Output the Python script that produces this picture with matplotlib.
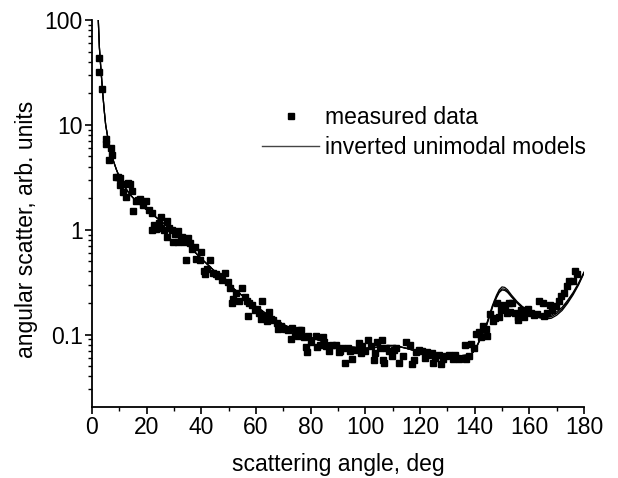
import matplotlib
matplotlib.use("Agg")
import matplotlib.pyplot as plt
from matplotlib.lines import Line2D
from matplotlib.ticker import LogLocator, NullFormatter, FixedLocator

plt.rcParams['font.family'] = ['Liberation Sans', 'DejaVu Sans']

# measured data (scattering angle deg, angular scatter arb. units)
meas_angle = [2.6, 2.7, 3.8, 5.0, 5.2, 6.2, 7.0, 7.4, 8.8, 9.6, 10.2, 10.4, 11.2, 11.7, 12.4,
              13.0, 13.8, 14.5, 14.9, 16.0, 16.9, 17.6, 18.5, 19.7,
              21.0, 21.8, 21.8, 22.6, 23.4, 24.5, 25.4, 25.4, 26.3, 27.3, 27.3, 28.2, 29.1, 29.5,
              30.3, 31.5, 31.5, 32.4, 33.1, 33.6, 34.3, 35.2, 35.8, 36.6, 37.6, 38.2, 39.4, 40.0,
              40.9, 41.3, 41.9, 43.1, 44.3, 45.3, 46.2, 47.4, 48.6, 49.8, 50.6, 51.4, 51.6, 52.7,
              53.8, 55.0, 55.8, 56.7, 57.1, 57.4, 58.4, 59.5, 60.3, 61.1, 62.0, 62.3, 63.2, 64.0,
              64.7, 65.5, 66.3, 67.7, 68.0, 69.2, 70.5, 71.6, 72.9, 73.3, 74.4, 75.2, 75.7, 76.6,
              77.5, 78.4, 78.6, 79.0, 80.2, 81.8, 82.3, 83.3, 84.5, 84.8, 85.7, 86.6, 87.8, 89.3,
              90.3, 90.7, 91.5, 92.4, 93.6, 94.3, 95.2, 96.5, 97.8, 98.5, 98.8, 99.7, 100.9, 101.9,
              103.0, 103.7, 104.2, 105.3, 106.1, 106.4, 106.8, 107.6, 108.5, 109.8, 110.6, 111.2,
              112.4, 113.9, 114.9, 116.2, 117.0, 117.8, 118.6, 119.7, 120.6, 121.7, 122.4, 123.0,
              124.4, 124.7, 125.6, 126.8, 127.6, 128.5, 129.5, 130.7, 131.9, 132.7, 133.6, 134.4,
              136.5, 137.0, 137.8, 138.8, 139.7, 140.6, 141.6, 142.2, 143.0, 144.2, 144.5, 145.6,
              146.6, 147.4, 148.3, 148.9, 149.8, 150.4, 151.1, 151.9, 152.5, 153.1, 153.7, 154.6,
              155.8, 156.0, 156.9, 158.2, 159.0, 159.6, 160.7, 161.8, 162.9, 163.4, 164.9, 165.3,
              166.3, 167.5, 168.4, 169.9, 170.7, 171.6, 172.5, 173.8, 174.6, 175.8, 176.6, 177.5]
meas_value = [43, 32, 22, 7.3, 6.5, 4.6, 6.0, 5.2, 3.2, 3.2, 2.65, 3.1, 2.3, 2.7, 2.05,
              2.8, 2.75, 2.35, 1.52, 1.9, 1.94, 1.95, 1.71, 1.9,
              1.55, 1.43, 0.99, 1.1, 1.02, 1.15, 1.32, 1.05, 1.0, 1.2, 0.85, 1.05, 0.99, 0.76,
              0.92, 0.98, 0.76, 0.8, 0.86, 0.76, 0.51, 0.84, 0.74, 0.66, 0.69, 0.53, 0.52, 0.61,
              0.40, 0.38, 0.42, 0.51, 0.39, 0.38, 0.36, 0.33, 0.39, 0.32, 0.28, 0.20, 0.22, 0.25,
              0.21, 0.28, 0.23, 0.21, 0.152, 0.20, 0.19, 0.17, 0.175, 0.16, 0.141, 0.21, 0.15, 0.135,
              0.165, 0.14, 0.137, 0.13, 0.113, 0.12, 0.113, 0.11, 0.091, 0.115, 0.10, 0.097, 0.11, 0.111,
              0.095, 0.076, 0.068, 0.098, 0.085, 0.098, 0.077, 0.08, 0.095, 0.085, 0.078, 0.07, 0.08, 0.079,
              0.068, 0.07, 0.075, 0.054, 0.075, 0.07, 0.058, 0.072, 0.083, 0.067, 0.078, 0.07, 0.088, 0.078,
              0.057, 0.067, 0.085, 0.075, 0.088, 0.057, 0.054, 0.075, 0.07, 0.063, 0.072, 0.075,
              0.054, 0.062, 0.085, 0.08, 0.053, 0.057, 0.068, 0.072, 0.07, 0.060, 0.069, 0.064,
              0.067, 0.054, 0.06, 0.064, 0.053, 0.058, 0.063, 0.064, 0.058, 0.064, 0.06, 0.058,
              0.079, 0.058, 0.062, 0.082, 0.075, 0.102, 0.106, 0.095, 0.122, 0.113, 0.098, 0.157,
              0.136, 0.145, 0.201, 0.146, 0.17, 0.19, 0.181, 0.16, 0.20, 0.166, 0.201, 0.16,
              0.146, 0.138, 0.17, 0.146, 0.165, 0.174, 0.16, 0.155, 0.156, 0.208, 0.201, 0.15,
              0.16, 0.193, 0.17, 0.189, 0.21, 0.232, 0.25, 0.288, 0.325, 0.325, 0.403, 0.38]

# inverted unimodal models
model_angle = [2.3, 2.7, 3.0, 3.5, 4.0, 4.5, 5.0, 6.0, 7.0, 8.0, 9.0, 10, 12, 14, 16, 18, 20,
               25, 30, 35, 40, 45, 50, 55, 60, 65, 70, 75, 80, 85, 90, 95, 100, 105, 108, 111,
               115, 120, 125, 130, 135, 138, 139.5, 141, 142.5, 144.5, 146.5, 148, 149, 150,
               151, 152, 153.5, 155.5, 157.5, 160, 162, 164, 166, 168, 170, 172, 174, 176,
               178, 180]
model_1 = [100, 55, 42, 28, 19, 13.5, 10, 7.0, 5.4, 4.4, 3.7, 3.2, 2.55, 2.15, 1.9, 1.7, 1.55,
           1.22, 0.95, 0.72, 0.53, 0.40, 0.30, 0.235, 0.185, 0.15, 0.125, 0.107, 0.094, 0.085,
           0.079, 0.076, 0.074, 0.076, 0.079, 0.079, 0.074, 0.068, 0.065, 0.063, 0.063, 0.064,
           0.068, 0.08, 0.098, 0.13, 0.19, 0.238, 0.268, 0.285, 0.282, 0.268, 0.238, 0.207,
           0.185, 0.168, 0.159, 0.153, 0.15, 0.153, 0.165, 0.182, 0.212, 0.252, 0.31, 0.395]
model_2 = [100, 55, 42, 28, 19, 13.5, 10, 7.0, 5.4, 4.4, 3.7, 3.2, 2.55, 2.15, 1.9, 1.7, 1.55,
           1.22, 0.95, 0.72, 0.53, 0.40, 0.30, 0.235, 0.185, 0.15, 0.125, 0.107, 0.094, 0.085,
           0.079, 0.076, 0.074, 0.076, 0.078, 0.078, 0.074, 0.068, 0.065, 0.063, 0.063, 0.064,
           0.068, 0.079, 0.096, 0.127, 0.185, 0.23, 0.258, 0.273, 0.271, 0.259, 0.232, 0.203,
           0.181, 0.164, 0.155, 0.148, 0.145, 0.148, 0.159, 0.176, 0.205, 0.245, 0.303, 0.39]
model_3 = [100, 55, 42, 28, 19, 13.5, 10, 7.0, 5.4, 4.4, 3.7, 3.2, 2.55, 2.15, 1.9, 1.7, 1.55,
           1.22, 0.95, 0.72, 0.53, 0.40, 0.30, 0.235, 0.185, 0.15, 0.125, 0.107, 0.094, 0.085,
           0.079, 0.076, 0.074, 0.076, 0.078, 0.078, 0.074, 0.068, 0.065, 0.063, 0.063, 0.064,
           0.068, 0.079, 0.095, 0.125, 0.181, 0.225, 0.252, 0.266, 0.264, 0.253, 0.228, 0.2,
           0.178, 0.161, 0.151, 0.144, 0.141, 0.143, 0.153, 0.17, 0.199, 0.239, 0.297, 0.385]

x_ticks = [0, 20, 40, 60, 80, 100, 120, 140, 160, 180]
y_ticks = [0.1, 1, 10, 100]
y_ticklabels = ['0.1', '1', '10', '100']

fig = plt.figure(figsize=(6.18, 4.78), dpi=100)
ax = fig.add_axes([92/618, 1 - 407/478, (584-92)/618, (407-20)/478])

for m in (model_1, model_2, model_3):
    ax.plot(model_angle, m, color='black', lw=0.9, zorder=2)
ax.plot(meas_angle, meas_value, linestyle='none', marker='s', ms=4.0,
        color='black', mec='black', zorder=3)

ax.set_yscale('log')
ax.set_xlim(0, 180)
ax.set_ylim(0.0204, 100)
ax.xaxis.set_major_locator(FixedLocator(x_ticks))
ax.xaxis.set_minor_locator(FixedLocator([v + 10 for v in x_ticks[:-1]]))
ax.set_yticks(y_ticks)
ax.set_yticklabels(y_ticklabels)
ax.yaxis.set_minor_locator(LogLocator(base=10, subs=range(2, 10)))
ax.yaxis.set_minor_formatter(NullFormatter())

for s in ('top', 'right'):
    ax.spines[s].set_visible(False)
for s in ('left', 'bottom'):
    ax.spines[s].set_linewidth(1.3)
ax.tick_params(which='major', direction='out', length=5, width=1.2, labelsize=16.5, pad=1.5)
ax.tick_params(which='minor', direction='out', length=3, width=1.0)

ax.set_xlabel('scattering angle, deg', fontsize=16.5)
ax.set_ylabel('angular scatter, arb. units', fontsize=16.5)
ax.xaxis.set_label_coords(0.5, -0.118)
ax.yaxis.set_label_coords(-0.11, 0.46)

handles = [Line2D([], [], linestyle='none', marker='s', ms=4.0, color='black'),
           Line2D([], [], color='#444444', lw=1.0)]
ax.legend(handles, ['measured data', 'inverted unimodal models'], loc='upper left',
          bbox_to_anchor=((251-92)/492, 1 - (95-20)/387), frameon=False, fontsize=16.5,
          handlelength=2.45, handletextpad=0.3, labelspacing=0.3, borderpad=0, numpoints=1)

fig.savefig('out.png', dpi=100)
